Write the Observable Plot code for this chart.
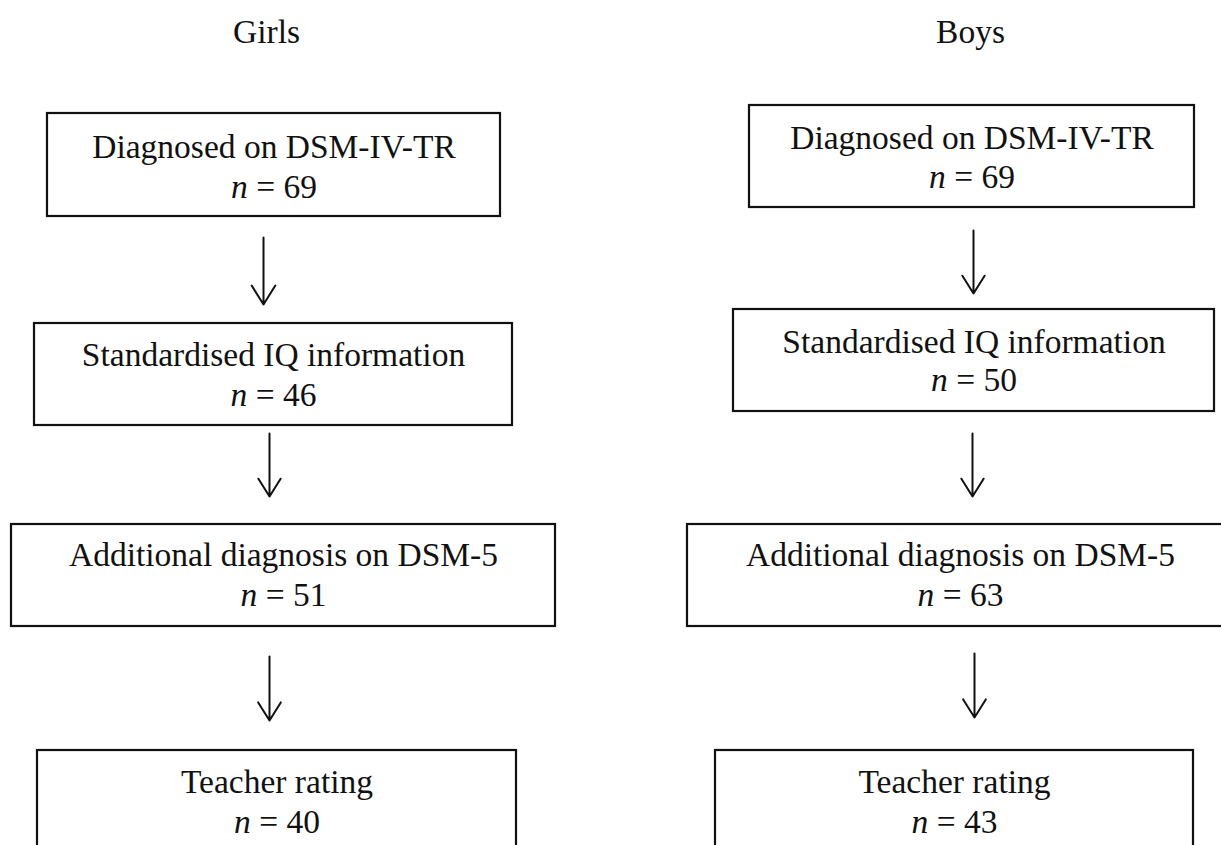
<!DOCTYPE html>
<html>
<head>
<meta charset="utf-8">
<script src="https://cdn.jsdelivr.net/npm/d3@7"></script>
<script src="https://cdn.jsdelivr.net/npm/@observablehq/plot@0.6"></script>
<style>
  html, body { margin: 0; padding: 0; background: #fff; overflow: hidden; }
</style>
</head>
<body>
<div id="chart"></div>
<script>
// ---- Data ----
const groups = ["Girls", "Boys"];
const stages = [
  "Diagnosed on DSM-IV-TR",
  "Standardised IQ information",
  "Additional diagnosis on DSM-5",
  "Teacher rating"
];
const girlsN = [69, 46, 51, 40];
const boysN = [69, 50, 63, 43];

// ---- Layout (diagram geometry, in page units) ----
const titleX = [266, 970];
const titleBaseline = 42;
const boxLeft   = [[47, 34, 11, 37], [749, 733, 687, 715]];
const boxRight  = [[500, 512, 555, 516], [1194, 1214, 1233, 1193]];
const boxTop    = [[113, 323, 524, 750], [105, 309, 524, 750]];
const boxBottom = [[216, 425, 626, 880], [207, 411, 626, 880]];
const labelOffset = [[44, 42, 41, 42], [43, 43, 41, 42]];
const countOffset = [[84, 82, 81, 82], [82, 81, 81, 82]];
const arrowX  = [[263, 269, 269], [973, 972, 974]];
const arrowY1 = [[237, 433, 656], [230, 433, 653]];
const arrowY2 = [[304, 496, 720], [293, 496, 717]];

const W = 1221, H = 845;
const font = "'Liberation Serif', 'Times New Roman', Times, serif";
const fs = 33.5;

const nByGroup = [girlsN, boysN];
const boxes = [];
groups.forEach((g, gi) => {
  stages.forEach((s, si) => {
    const x1 = boxLeft[gi][si], x2 = boxRight[gi][si];
    const top = boxTop[gi][si];
    boxes.push({
      group: g, stage: s, n: nByGroup[gi][si],
      x1, x2, y1: top, y2: boxBottom[gi][si],
      cx: (x1 + x2) / 2,
      labelY: top + labelOffset[gi][si],
      countY: top + countOffset[gi][si]
    });
  });
});
const arrows = [];
groups.forEach((g, gi) => {
  arrowX[gi].forEach((x, k) => {
    arrows.push({group: g, x, y1: arrowY1[gi][k], y2: arrowY2[gi][k]});
  });
});
const titles = groups.map((g, gi) => ({group: g, x: titleX[gi], y: titleBaseline}));

const plot = Plot.plot({
  width: W,
  height: H,
  margin: 0,
  x: {domain: [0, W], range: [0, W], axis: null},
  y: {domain: [0, H], range: [0, H], axis: null},
  style: {background: "white"},
  marks: [
    Plot.rect(boxes, {x1: "x1", x2: "x2", y1: "y1", y2: "y2", fill: "white", stroke: "#111", strokeWidth: 2.2}),
    Plot.arrow(arrows, {x1: "x", x2: "x", y1: "y1", y2: "y2", stroke: "#111", strokeWidth: 2, headLength: 18, headAngle: 64}),
    Plot.text(titles, {x: "x", y: "y", text: "group", lineAnchor: "bottom", fontSize: fs, fontFamily: font, fill: "#111"}),
    Plot.text(boxes, {x: "cx", y: "labelY", text: "stage", lineAnchor: "bottom", fontSize: fs, fontFamily: font, fill: "#111"}),
    Plot.text(boxes, {x: "cx", y: "countY", text: d => `n = ${d.n}`, lineAnchor: "bottom", fontSize: fs, fontFamily: font, fill: "#111"})
  ]
});

// italicise the "n" in the count lines
const SVGNS = "http://www.w3.org/2000/svg";
plot.querySelectorAll("text").forEach(t => {
  const s = t.textContent;
  if (!/^n = \d+$/.test(s)) return;
  const rest = s.slice(1);
  while (t.firstChild) t.removeChild(t.firstChild);
  const ts = document.createElementNS(SVGNS, "tspan");
  ts.setAttribute("font-style", "italic");
  ts.style.fontStyle = "italic";
  ts.textContent = "n";
  const rs = document.createElementNS(SVGNS, "tspan");
  rs.textContent = rest;
  t.appendChild(ts);
  t.appendChild(rs);
});

document.getElementById("chart").appendChild(plot);
</script>
</body>
</html>
